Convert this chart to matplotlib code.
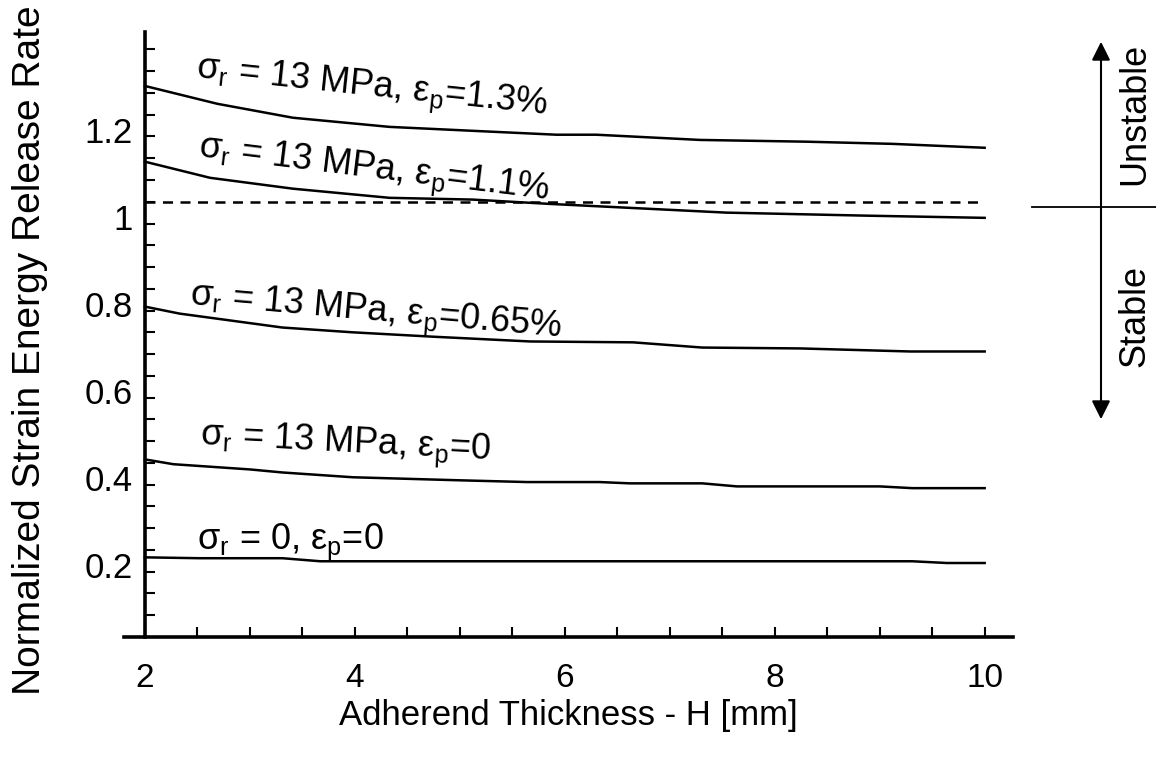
import matplotlib
matplotlib.use("Agg")
import matplotlib.pyplot as plt
from matplotlib.patches import FancyArrowPatch
from matplotlib.lines import Line2D
from matplotlib.transforms import ScaledTranslation

plt.rcParams["font.family"] = ["Liberation Sans", "DejaVu Sans"]

# curves: H [mm] vs normalized G
h_a = [2.0, 2.69, 3.41, 4.33, 5.12, 5.92, 6.30, 7.29, 8.30, 9.12, 10.0]
g_a = [1.266, 1.225, 1.193, 1.172, 1.163, 1.154, 1.154, 1.142, 1.138, 1.133, 1.124]

h_b = [2.0, 2.62, 3.41, 4.33, 5.12, 5.86, 7.54, 8.88, 10.0]
g_b = [1.092, 1.055, 1.030, 1.009, 1.005, 0.995, 0.975, 0.968, 0.963]

h_c = [2.0, 2.33, 3.31, 3.98, 4.74, 5.67, 6.65, 7.31, 8.24, 9.29, 10.0]
g_c = [0.759, 0.743, 0.711, 0.700, 0.690, 0.679, 0.677, 0.665, 0.663, 0.656, 0.656]

h_d = [2.0, 2.27, 3.0, 3.31, 3.98, 5.0, 5.64, 6.33, 6.62, 7.31, 7.64, 9.0, 9.31, 10.0]
g_d = [0.408, 0.397, 0.385, 0.378, 0.367, 0.360, 0.356, 0.356, 0.353, 0.353, 0.346, 0.346, 0.342, 0.342]

h_e = [2.0, 2.52, 3.31, 3.67, 5.95, 9.31, 9.64, 10.0]
g_e = [0.183, 0.181, 0.181, 0.174, 0.174, 0.174, 0.170, 0.170]

curve_labels = [
    "σ$_\\mathregular{r}$ = 13 MPa, ε$_\\mathregular{p}$=1.3%",
    "σ$_\\mathregular{r}$ = 13 MPa, ε$_\\mathregular{p}$=1.1%",
    "σ$_\\mathregular{r}$ = 13 MPa, ε$_\\mathregular{p}$=0.65%",
    "σ$_\\mathregular{r}$ = 13 MPa, ε$_\\mathregular{p}$=0",
    "σ$_\\mathregular{r}$ = 0, ε$_\\mathregular{p}$=0",
]
label_pos = [(2.48, 1.287, -6), (2.5, 1.104, -7), (2.42, 0.766, -5), (2.52, 0.443, -3), (2.5, 0.203, 0)]

critical = 1.0

yticks = [0.2, 0.4, 0.6, 0.8, 1.0, 1.2]
ytick_labels = ["0.2", "0.4", "0.6", "0.8", "1", "1.2"]
xticks = [2, 4, 6, 8, 10]

fig = plt.figure(figsize=(11.56, 7.57), dpi=100)
ax = fig.add_axes([124 / 1156, 120 / 757, 889 / 1156, 605 / 757])

for h, g in [(h_a, g_a), (h_b, g_b), (h_c, g_c), (h_d, g_d), (h_e, g_e)]:
    ax.plot(h, g, color="black", lw=1.8)

ax.plot([2, 10], [critical, critical], color="black", lw=1.8, ls=(0, (4, 3)))

for text, (x, y, rot) in zip(curve_labels, label_pos):
    ax.text(x, y, text, fontsize=26, rotation=rot, rotation_mode="anchor",
            ha="left", va="baseline")

ax.set_xlim(1.8, 10.27)
ax.set_ylim(0, 1.39)
ax.spines["top"].set_visible(False)
ax.spines["right"].set_visible(False)
ax.spines["left"].set_position(("data", 2))
ax.spines["left"].set_linewidth(2.6)
ax.spines["bottom"].set_linewidth(2.6)

ax.set_xticks(xticks)
ax.set_xticks([x / 2 for x in range(5, 21)], minor=True)
ax.set_yticks(yticks)
ax.set_yticklabels(ytick_labels)
ax.set_yticks([i * 0.05 for i in range(1, 28)], minor=True)
ax.tick_params(which="both", direction="in", length=7, width=1.5)
ax.tick_params(axis="x", which="major", labelsize=24, pad=19)
ax.tick_params(axis="y", which="major", labelsize=25, pad=9)

# y tick labels sit a little below their ticks in the original
off = ScaledTranslation(0, -0.15, fig.dpi_scale_trans)
for lab in ax.get_yticklabels():
    lab.set_transform(lab.get_transform() + off)

fig.text(0.5 * (124 + 1013) / 1156, 1 - 716 / 757, "Adherend Thickness - H [mm]",
         fontsize=25, ha="center", va="center")
fig.text(30 / 1156, 1 - 350 / 757, "Normalized Strain Energy Release Rate",
         fontsize=28, rotation=90, ha="center", va="center")

# stability indicator on the right
arrow = FancyArrowPatch((1101 / 1156, 1 - 422 / 757), (1101 / 1156, 1 - 39 / 757),
                        transform=fig.transFigure, arrowstyle="<|-|>",
                        mutation_scale=28, color="black", lw=1.5)
fig.patches.append(arrow)
fig.lines.append(Line2D([1032 / 1156, 1.0], [1 - 207 / 757, 1 - 207 / 757],
                        transform=fig.transFigure, color="black", lw=1.3))
fig.text(1135 / 1156, 1 - 114 / 757, "Unstable", fontsize=26, rotation=90, ha="center", va="center")
fig.text(1135 / 1156, 1 - 316 / 757, "Stable", fontsize=26, rotation=90, ha="center", va="center")

fig.savefig("out.png", dpi=100)
